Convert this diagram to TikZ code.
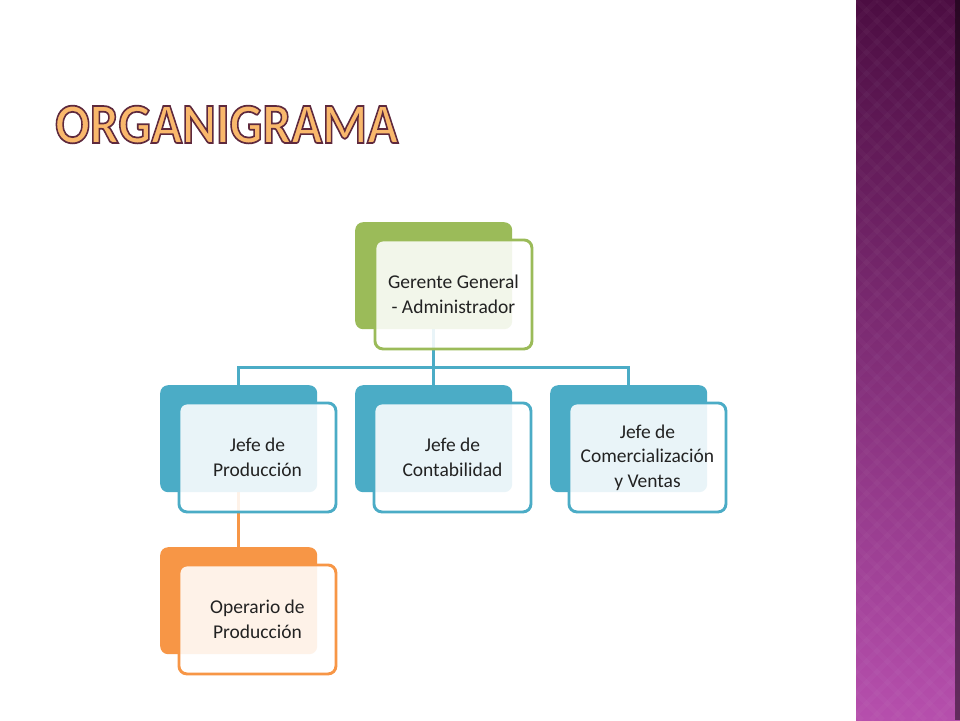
\documentclass[tikz,border=0pt]{standalone}
\usepackage{fontspec}
\setmainfont{Carlito}
\newfontfamily\titlefont[FakeBold=3]{Carlito Bold}
\usetikzlibrary{backgrounds,calc}
\definecolor{grn}{HTML}{9BBB59}
\definecolor{blu}{HTML}{4BACC6}
\definecolor{org}{HTML}{F79646}
\definecolor{stripTop}{HTML}{4C0D42}
\definecolor{stripMid}{HTML}{7E2E75}
\definecolor{stripBot}{HTML}{B64FAD}
\definecolor{titleFill}{HTML}{F9B86C}
\definecolor{txt}{HTML}{222222}
\pgfdeclarelayer{base}
\pgfdeclarelayer{bgl}
\pgfsetlayers{base,bgl,main}
\newcommand{\orgtitle}{\scalebox{0.9}[1]{\fontsize{57}{57}\titlefont\special{pdf:code 0.37 0.16 0.24 RG}ORGANIGRAMA}}
\begin{document}
\begin{tikzpicture}[x=1pt,y=-1pt,
  backbox/.style={rounded corners=8pt, minimum width=157pt, minimum height=107pt, inner sep=0pt, anchor=north west},
  frontbox/.style={rounded corners=8pt, draw, line width=2.9pt, fill=white, fill opacity=0.88, text opacity=1, minimum width=157pt, minimum height=109pt, inner sep=0pt, anchor=north west, align=center, font=\fontsize{19.5}{24.5}\selectfont, text=txt},
  conn/.style={line width=2.8pt}]
\begin{pgfonlayer}{base}
  \fill[white] (0,0) rectangle (960,720);
  \shade[top color=stripTop, middle color=stripMid, bottom color=stripBot] (856,0) rectangle (960,720);
  \begin{scope}
    \clip (856,0) rectangle (956,720);
    \foreach \k in {-40,...,45} {
      \draw[white, opacity=0.025, line width=5pt] (856+\k*21,0) -- ++(720,720);
      \draw[white, opacity=0.025, line width=5pt] (856+\k*21,0) -- ++(-720,720);
    }
  \end{scope}
  \fill[black, opacity=0.45] (955,0) rectangle (960,720);
\end{pgfonlayer}
\useasboundingbox (0,0) rectangle (960,720);

% title
\node[anchor=base west, inner sep=0pt, text=titleFill] (title) at (55,143) {\orgtitle};

% top box
\node[backbox, fill=grn] (gback) at (355,222) {};
\node[frontbox, draw=grn] (gfront) at (373.5,238.5) {Gerente General\\- Administrador};

% second row
\node[backbox, fill=blu] (pback) at (160,385) {};
\node[frontbox, draw=blu] (pfront) at (177.5,401.5) {Jefe de\\Producción};
\node[backbox, fill=blu] (cback) at (355,385) {};
\node[frontbox, draw=blu] (cfront) at (372.5,401.5) {Jefe de\\Contabilidad};
\node[backbox, fill=blu] (vback) at (550,385) {};
\node[frontbox, draw=blu] (vfront) at (567.5,401.5) {Jefe de\\Comercialización\\y Ventas};

% third row
\node[backbox, fill=org] (oback) at (160,547) {};
\node[frontbox, draw=org] (ofront) at (177.5,563.5) {Operario de\\Producción};

\begin{pgfonlayer}{bgl}
  \coordinate (bus) at ($(gback.south)+(0,38)$);
  \draw[conn, blu] (gback.south) -- (bus);
  \draw[conn, blu] (bus) -| (pback.north);
  \draw[conn, blu] (bus) -| (vback.north);
  \draw[conn, blu] (bus) -- (cback.north);
  \draw[conn, org] (pback.south) -- (oback.north);
\end{pgfonlayer}
\end{tikzpicture}
\end{document}
